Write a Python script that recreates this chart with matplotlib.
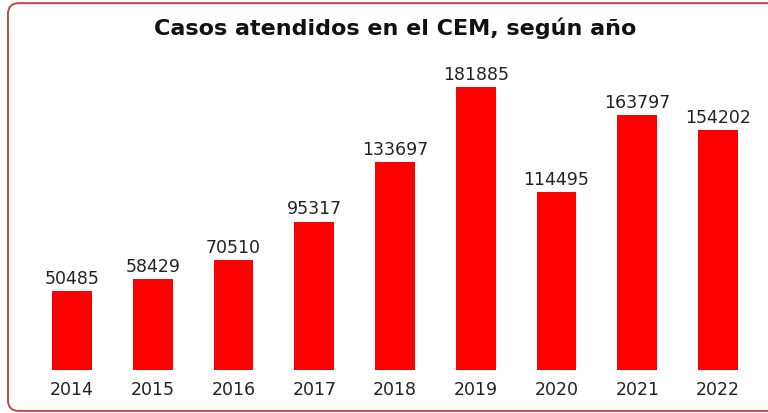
import matplotlib
matplotlib.use("Agg")
import matplotlib.pyplot as plt
from matplotlib.patches import FancyBboxPatch

years = ["2014", "2015", "2016", "2017", "2018", "2019", "2020", "2021", "2022"]
cases = [50485, 58429, 70510, 95317, 133697, 181885, 114495, 163797, 154202]

fig = plt.figure(figsize=(7.68, 4.14), dpi=100)
fig.patch.set_facecolor("white")

# rounded frame, right edge runs off the canvas
frame = FancyBboxPatch((0.0104, 0.005), 1.05, 0.985,
                       boxstyle="round,pad=0,rounding_size=0.014",
                       transform=fig.transFigure, facecolor="none",
                       edgecolor="#c0474a", linewidth=1.4, mutation_aspect=1.855)
fig.patches.append(frame)

ax = fig.add_axes([0, 0, 1, 1])
ax.patch.set_alpha(0)
x = range(len(years))
ax.bar(x, cases, width=0.495, color="#ff0000")

for i, v in enumerate(cases):
    ax.annotate(str(v), xy=(i, v), xytext=(0, 6), textcoords="offset points",
                ha="center", va="baseline", fontsize=12.5, color="#222222")
    ax.annotate(years[i], xy=(i, 0), xytext=(0, -7), textcoords="offset points",
                ha="center", va="top", fontsize=12.5, color="#222222")

ax.set_xlim(-0.8916, 8.619)
ax.set_ylim(-27630, 238430)
ax.axis("off")

fig.text(0.515, 0.932, "Casos atendidos en el CEM, según año", ha="center",
         va="center", fontsize=16, fontweight="bold", color="#111111")

fig.savefig("out.png", dpi=100)
